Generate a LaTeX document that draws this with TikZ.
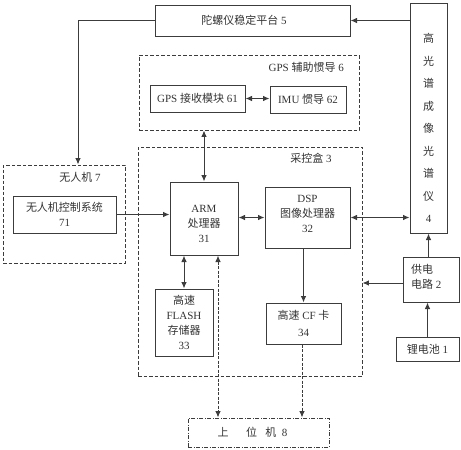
\documentclass[tikz,border=0pt]{standalone}
\usepackage{fontspec}
\setmainfont{Liberation Serif}
\newfontfamily\cj{Noto Sans CJK SC}
\usetikzlibrary{arrows.meta}
\definecolor{linec}{HTML}{3C3C3C}
\definecolor{textc}{HTML}{333333}
\tikzset{
  tip/.tip={Latex[length=6.5pt,width=5.5pt]},
  box/.style={draw=linec, line width=1pt, inner sep=0pt, align=center, text=textc,
    font=\fontsize{11}{15}\selectfont},
  dbox/.style={box, line width=0.9pt, dash pattern=on 3.5pt off 2pt},
  ddbox/.style={box, line width=0.9pt, dash pattern=on 4pt off 1.5pt on 1pt off 1.5pt},
  lbl/.style={inner sep=0pt, align=center, text=textc, font=\fontsize{11}{15}\selectfont},
  conn/.style={draw=linec, line width=1pt, -tip},
  dconn/.style={conn, dash pattern=on 3pt off 1.5pt},
}
\begin{document}
\begin{tikzpicture}[x=1pt,y=-1pt]
\useasboundingbox (0,0) rectangle (461,450);
% boxes
\node[box, minimum width=195pt, minimum height=31pt] (gyro) at (252.5,20.5) {{\cj 陀螺仪稳定平台} 5\hspace{17pt}};
\node[box, minimum width=37pt, minimum height=230pt] (hyper) at (428.5,118) {};
\node[lbl, font=\fontsize{11}{22.5}\selectfont] (hypertext) at (428.5,128) {{\cj 高}\\{\cj 光}\\{\cj 谱}\\{\cj 成}\\{\cj 像}\\{\cj 光}\\{\cj 谱}\\{\cj 仪}\\4};
\node[dbox, minimum width=220pt, minimum height=75pt] (gpsbox) at (249,92.5) {};
\node[lbl, anchor=east] (gpstitle) at (344,67) {GPS {\cj 辅助惯导} 6};
\node[box, minimum width=95pt, minimum height=27pt] (gpsrx) at (197.5,98.5) {GPS {\cj 接收模块} 61};
\node[box, minimum width=76pt, minimum height=27pt] (imu) at (308,99.5) {IMU {\cj 惯导} 62};
\node[dbox, minimum width=224pt, minimum height=229pt] (ck) at (250,261.5) {};
\node[lbl] (cktitle) at (311,158) {{\cj 采控盒} 3};
\node[box, minimum width=68pt, minimum height=73pt] (arm) at (204,218.5) {};
\node[lbl] (armtext) at (204,224) {ARM\\{\cj 处理器}\\31};
\node[box, minimum width=85pt, minimum height=61pt] (dsp) at (307.5,217.5) {};
\node[lbl] (dsptext) at (307.5,214) {DSP\\{\cj 图像处理器}\\32};
\node[dbox, minimum width=122pt, minimum height=98pt] (uav) at (64,214) {};
\node[lbl] (uavtitle) at (80,177) {{\cj 无人机} 7};
\node[box, minimum width=103pt, minimum height=37pt] (uavctl) at (64.5,214.5) {{\cj 无人机控制系统}\\71};
\node[box, minimum width=56pt, minimum height=45pt] (power) at (431,279.5) {};
\node[lbl, align=left, anchor=west] (powertext) at (411,276.5) {{\cj 供电}\\{\cj 电路} 2};
\node[box, minimum width=63pt, minimum height=24pt] (bat) at (427.5,349) {{\cj 锂电池} 1};
\node[box, minimum width=58pt, minimum height=67pt] (flash) at (184,322.5) {{\cj 高速}\\FLASH\\{\cj 存储器}\\33};
\node[box, minimum width=75pt, minimum height=41pt, font=\fontsize{11}{17}\selectfont] (cf) at (303.5,323.5) {{\cj 高速} CF {\cj 卡}\\34};
\node[ddbox, minimum width=141pt, minimum height=29pt] (host) at (258.5,432.5) {{\cj 上}\hspace{1.6em}{\cj 位}\hspace{0.75em}{\cj 机}\hspace{0.5em}8\hspace{12pt}};
% connectors
\draw[conn] (hyper.west |- gyro.east) -- (gyro.east);
\draw[conn] (gyro.west) -| ([xshift=14pt]uav.north);
\draw[conn, tip-tip] (gpsrx.east) -- (gpsrx.east -| imu.west);
\draw[conn, tip-tip] (arm.north |- gpsbox.south) -- (arm.north);
\draw[conn] (uavctl.east) -- (uavctl.east -| arm.west);
\draw[conn, tip-tip] (arm.east |- dsp.west) -- (dsp.west);
\draw[conn, tip-tip] (dsp.east) -- (dsp.east -| hyper.west);
\draw[conn] (hyper.south |- power.north) -- (hyper.south);
\draw[conn] ([yshift=-3.5pt]power.west) -- ([yshift=-3.5pt]power.west -| ck.east);
\draw[conn] (bat.north) -- (bat.north |- power.south);
\draw[conn, tip-tip] (flash.north |- arm.south) -- (flash.north);
\draw[dconn, tip-tip] ([xshift=14pt]arm.south) -- ([xshift=14pt]arm.south |- host.north);
\draw[conn] (cf.north |- dsp.south) -- (cf.north);
\draw[dconn] ([xshift=-1.5pt]cf.south) -- ([xshift=-1.5pt]cf.south |- host.north);
\end{tikzpicture}
\end{document}
